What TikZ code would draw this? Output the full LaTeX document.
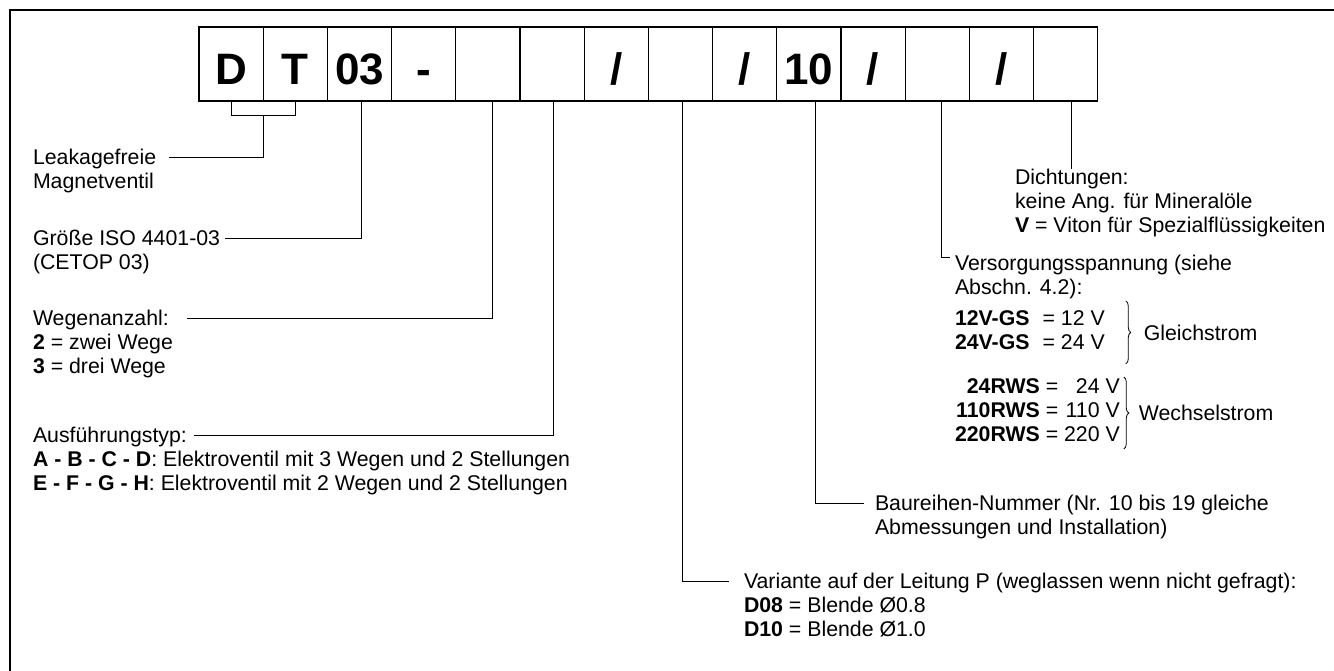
\documentclass[tikz,border=0pt]{standalone}
\usepackage{fontspec}
\setmainfont{Liberation Sans}
\usetikzlibrary{calc,decorations.pathreplacing}
\begin{document}
\begin{tikzpicture}[x=1pt,y=-1pt,
  every node/.style={inner sep=0pt, outer sep=0pt},
  cell/.style={draw, line width=1.1pt, minimum width=64.2pt, minimum height=74pt,
    anchor=north west, font=\fontsize{44}{44}\selectfont\bfseries,
    text height=40.5pt, text depth=0pt},
  ttl/.style={font=\fontsize{21.3}{24}\selectfont, anchor=west, text height=15pt, text depth=0pt},
  bdy/.style={font=\fontsize{21.3}{24}\selectfont, align=left, anchor=north west},
  lead/.style={line width=0.9pt},
  curly/.style={decorate, decoration={brace, amplitude=5pt}, line width=0.8pt},
]
\useasboundingbox (0,0) rectangle (1334,670);

% outer frame (runs off the right and bottom edges)
\draw[line width=1.8pt] (1340,10) -- (10,10) -- (10,676);

% order code cells
\foreach \t [count=\i] in {D,T,03,-,{},{},/,{},/,10,/,{},/,{}}
  \node[cell] (b\i) at ({199+(\i-1)*64.2},27) {\t};

% left-hand descriptions
\node[ttl] (leak) at (33,157) {Leakagefreie};
\node[bdy] (leakb) at ([yshift=-7.2pt]leak.south west) {\strut Magnetventil};

\node[ttl] (size) at (33,238) {Größe ISO 4401-03};
\node[bdy] (sizeb) at ([yshift=-7.2pt]size.south west) {\strut (CETOP 03)};

\node[ttl] (ways) at (33,318) {Wegenanzahl:};
\node[bdy] (waysb) at ([yshift=-7.2pt]ways.south west)
  {\strut\textbf{2} = zwei Wege\\\textbf{3} = drei Wege};

\node[ttl] (type) at (33,435) {Ausführungstyp:};
\node[bdy] (typeb) at ([yshift=-7.2pt]type.south west)
  {\strut\textbf{A - B - C - D}: Elektroventil mit 3 Wegen und 2 Stellungen\\
   \textbf{E - F - G - H}: Elektroventil mit 2 Wegen und 2 Stellungen};

% right-hand descriptions
\node[ttl] (seal) at (1015,177) {Dichtungen:};
\node[bdy] (sealb) at ([yshift=-7.2pt]seal.south west)
  {\strut keine Ang. für Mineralöle\\\textbf{V} = Viton für Spezialflüssigkeiten};

\node[ttl] (volt) at (955,263) {Versorgungsspannung (siehe};
\node[bdy] (voltb) at ([yshift=-7.2pt]volt.south west) {\strut Abschn. 4.2):};

\node[bdy] (dc) at ([yshift=-7.2pt]voltb.south west)
  {\begin{tabular}{@{}l@{\hspace{13pt}=\ }l@{}}
     \textbf{12V-GS} & 12 V\\
     \textbf{24V-GS} & 24 V
   \end{tabular}};
\node[bdy] (ac) at (955,377)
  {\begin{tabular}{@{}r@{\ =\ }r@{}}
     \textbf{24RWS} & 24 V\\
     \textbf{110RWS} & 110 V\\
     \textbf{220RWS} & 220 V
   \end{tabular}};

\draw[curly] ([xshift=21pt,yshift=8pt]dc.north east) -- ([xshift=21pt,yshift=-7pt]dc.south east);
\node[ttl] (dclbl) at ([xshift=39pt]dc.east) {Gleichstrom};
\draw[curly] ([xshift=4pt]ac.north east) -- ([xshift=4pt]ac.south east);
\node[ttl] (aclbl) at ([xshift=19pt]ac.east) {Wechselstrom};

\node[ttl] (ser) at (875,503) {Baureihen-Nummer (Nr. 10 bis 19 gleiche};
\node[bdy] (serb) at ([yshift=-7.2pt]ser.south west) {\strut Abmessungen und Installation)};

\node[ttl] (var) at (744,581) {Variante auf der Leitung P (weglassen wenn nicht gefragt):};
\node[bdy] (varb) at ([yshift=-7.2pt]var.south west)
  {\strut\textbf{D08} = Blende Ø0.8\\\textbf{D10} = Blende Ø1.0};

% connectors from the cells
\coordinate (brmid) at ($(b1.south)!0.5!(b2.south)+(0,14)$);
\draw[lead] (b1.south) -- ++(0,14) -| (b2.south);
\draw[lead] (brmid) |- ([xshift=13pt]leak.east);
\draw[lead] ([xshift=2pt]b3.south) |- ([xshift=5pt]size.east);
\draw[lead] ([xshift=5pt]b5.south) |- ([xshift=18pt]ways.east);
\draw[lead] ([xshift=1pt]b6.south) |- ([xshift=7pt]type.east);
\draw[lead] ([xshift=2pt]b8.south) |- ([xshift=-15pt]var.west);
\draw[lead] ([xshift=7pt]b10.south) |- ([xshift=-11pt]ser.west);
\draw[lead] ([xshift=4pt]b12.south) |- ([xshift=-5pt,yshift=6pt]volt.west);
\draw[lead] ([xshift=6pt]b14.south) -- ++(0,68);
\end{tikzpicture}
\end{document}
